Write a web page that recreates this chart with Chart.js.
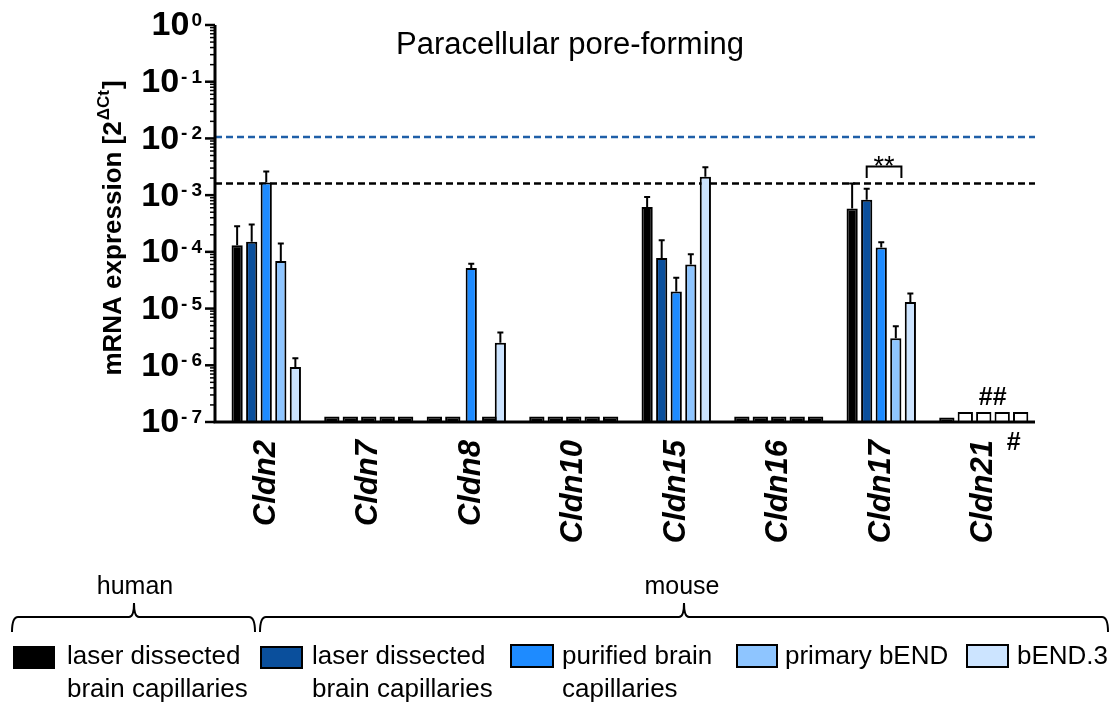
<!DOCTYPE html>
<html><head><meta charset="utf-8">
<script src="https://cdn.jsdelivr.net/npm/chart.js@4.4.0/dist/chart.umd.min.js"></script>
<style>html,body{margin:0;padding:0;background:#fff;}</style>
</head><body>
<canvas id="c" width="1115" height="702"></canvas>
<script>
// ---------- data ----------
const categories = ['Cldn2','Cldn7','Cldn8','Cldn10','Cldn15','Cldn16','Cldn17','Cldn21'];
const seriesNames = ['human laser dissected brain capillaries','mouse laser dissected brain capillaries','purified brain capillaries','primary bEND','bEND.3'];
const seriesColors = ['#000000','#0A4F9C','#1E8BFF','#8EC5FF','#CCE4FF'];

const humanLaser     = [1.31e-4, null, null, null, 6.2e-4, null, 5.8e-4, null];
const humanLaserErr  = [2.84e-4, null, null, null, 9.3e-4, null, 1.6e-3, null];
const mouseLaser     = [1.5e-4, null, null, null, 7.8e-5, null, 8.3e-4, null];
const mouseLaserErr  = [3.04e-4, null, null, null, 1.6e-4, null, 1.3e-3, null];
const purified       = [1.67e-3, null, 5.2e-5, null, 2.0e-5, null, 1.19e-4, null];
const purifiedErr    = [2.6e-3, null, 6.2e-5, null, 3.5e-5, null, 1.48e-4, null];
const primary        = [6.9e-5, null, null, null, 6.0e-5, null, 3.0e-6, null];
const primaryErr     = [1.4e-4, null, null, null, 9.1e-5, null, 4.9e-6, null];
const bend3          = [9.3e-7, null, 2.5e-6, null, 2.1e-3, null, 1.31e-5, null];
const bend3Err       = [1.33e-6, null, 3.8e-6, null, 3.1e-3, null, 1.84e-5, null];

// not-detected bars (drawn at the detection floor)
const ndHumanLaser   = [null, 1.25e-7, 1.25e-7, 1.25e-7, null, 1.25e-7, null, 1.2e-7];
const ndMouseLaser   = [null, 1.25e-7, 1.25e-7, 1.25e-7, null, 1.25e-7, null, 1.5e-7];
const ndPurified     = [null, 1.25e-7, null,    1.25e-7, null, 1.25e-7, null, 1.5e-7];
const ndPrimary      = [null, 1.25e-7, 1.25e-7, 1.25e-7, null, 1.25e-7, null, 1.5e-7];
const ndBend3        = [null, 1.25e-7, null,    1.25e-7, null, 1.25e-7, null, 1.5e-7];
const ndHollow       = [false, false, false, false, false, false, false, true]; // mouse ND bars drawn hollow

const yTickExponents = [0, -1, -2, -3, -4, -5, -6, -7];
const thresholdValues = [1.06e-2, 1.6e-3];
const thresholdColors = ['#1F5FA8', '#000000'];

// ---------- chart ----------
const FONT = "'Liberation Sans', Arial, sans-serif";
const values = [humanLaser, mouseLaser, purified, primary, bend3];
const errs = [humanLaserErr, mouseLaserErr, purifiedErr, primaryErr, bend3Err];
const ndValues = [ndHumanLaser, ndMouseLaser, ndPurified, ndPrimary, ndBend3];

const datasets = [];
values.forEach((v, i) => datasets.push({
  label: seriesNames[i], data: v, stack: 's' + i,
  backgroundColor: seriesColors[i], borderColor: '#000', borderWidth: 2,
  categoryPercentage: 0.71, barPercentage: 0.77
}));
ndValues.forEach((v, i) => datasets.push({
  label: seriesNames[i] + ' (n.d.)', data: v, stack: 's' + i,
  backgroundColor: ctx => (i > 0 && ndHollow[ctx.dataIndex]) ? '#ffffff' : '#000000',
  borderColor: '#000', borderWidth: 2,
  categoryPercentage: 0.9, barPercentage: 0.83
}));

const deco = {
  id: 'deco',
  beforeDatasetsDraw(chart) {
    const {ctx, chartArea: a, scales: {y}} = chart;
    ctx.save();
    thresholdValues.forEach((t, i) => {
      const py = y.getPixelForValue(t);
      ctx.strokeStyle = thresholdColors[i];
      ctx.lineWidth = 2.5;
      ctx.setLineDash([7, 4]);
      ctx.beginPath(); ctx.moveTo(a.left, py); ctx.lineTo(a.right, py); ctx.stroke();
    });
    ctx.restore();
  },
  afterDatasetsDraw(chart) {
    const {ctx, chartArea: a, scales: {x, y}} = chart;
    ctx.save();
    ctx.strokeStyle = '#000';
    ctx.lineWidth = 2;
    // error bars
    errs.forEach((e, i) => {
      const meta = chart.getDatasetMeta(i);
      e.forEach((ev, j) => {
        if (ev == null || values[i][j] == null) return;
        const bar = meta.data[j];
        const ye = y.getPixelForValue(ev);
        ctx.beginPath();
        ctx.moveTo(bar.x, bar.y); ctx.lineTo(bar.x, ye);
        ctx.moveTo(bar.x - 3, ye); ctx.lineTo(bar.x + 3, ye);
        ctx.stroke();
      });
    });
    // axes
    ctx.lineWidth = 3;
    ctx.beginPath();
    ctx.moveTo(a.left, a.top); ctx.lineTo(a.left, a.bottom + 1.5);
    ctx.moveTo(a.left, a.bottom); ctx.lineTo(a.right, a.bottom);
    ctx.stroke();
    // y ticks
    yTickExponents.forEach(e => {
      const py = y.getPixelForValue(Math.pow(10, e));
      ctx.lineWidth = 2.5;
      ctx.beginPath(); ctx.moveTo(a.left - 10, py); ctx.lineTo(a.left, py); ctx.stroke();
      if (e > -7) {
        for (let m = 2; m <= 9; m++) {
          const pm = y.getPixelForValue(m * Math.pow(10, e - 1));
          ctx.lineWidth = 1.5;
          ctx.beginPath(); ctx.moveTo(a.left - 5, pm); ctx.lineTo(a.left, pm); ctx.stroke();
        }
      }
    });
    // y tick labels 10^e
    ctx.fillStyle = '#000';
    yTickExponents.forEach(e => {
      const py = y.getPixelForValue(Math.pow(10, e));
      const rightEdge = a.left - 13;
      ctx.font = 'bold 19px ' + FONT;
      let supW;
      ctx.textAlign = 'right'; ctx.textBaseline = 'alphabetic';
      if (e === 0) {
        supW = ctx.measureText('0').width;
        ctx.fillText('0', rightEdge, py + 1);
      } else {
        const d = String(-e);
        const dw = ctx.measureText(d).width;
        ctx.fillText(d, rightEdge, py + 1);
        ctx.fillText('-', rightEdge - dw - 4, py + 1);
        supW = dw + 4 + ctx.measureText('-').width;
      }
      ctx.font = 'bold 34px ' + FONT;
      ctx.textAlign = 'right'; ctx.textBaseline = 'middle';
      ctx.fillText('10', rightEdge - supW - 2, py + 1);
    });
    // y title
    ctx.save();
    ctx.translate(112, 228);
    ctx.rotate(-Math.PI / 2);
    const t1 = 'mRNA expression [2', ts = '\u0394Ct', t2 = ']';
    ctx.font = 'bold 26px ' + FONT;
    const w1 = ctx.measureText(t1).width, w2 = ctx.measureText(t2).width;
    ctx.font = 'bold 17px ' + FONT;
    const ws = ctx.measureText(ts).width;
    let sx = -(w1 + ws + w2 + 2) / 2;
    ctx.textAlign = 'left'; ctx.textBaseline = 'alphabetic';
    ctx.font = 'bold 26px ' + FONT;
    ctx.fillText(t1, sx, 9);
    ctx.font = 'bold 17px ' + FONT;
    ctx.fillText(ts, sx + w1 + 1, -3);
    ctx.font = 'bold 26px ' + FONT;
    ctx.fillText(t2, sx + w1 + ws + 2, 9);
    ctx.restore();

    // significance bracket at Cldn17 (mouse laser vs primary bEND)
    const ci = categories.indexOf('Cldn17');
    const bl = chart.getDatasetMeta(1).data[ci], br = chart.getDatasetMeta(3).data[ci];
    const xl = bl.x, xr = br.x + br.width / 2;
    const yt = y.getPixelForValue(3.2e-3), yb = y.getPixelForValue(2.0e-3);
    ctx.lineWidth = 2;
    ctx.beginPath();
    ctx.moveTo(xl, yb); ctx.lineTo(xl, yt); ctx.lineTo(xr, yt); ctx.lineTo(xr, yb);
    ctx.stroke();
    ctx.font = '27px ' + FONT;
    ctx.textAlign = 'center'; ctx.textBaseline = 'alphabetic';
    ctx.fillText('**', (xl + xr) / 2, yt + 9);
    // ## above Cldn21
    const c21 = categories.indexOf('Cldn21');
    ctx.font = 'bold 25px ' + FONT;
    ctx.textBaseline = 'middle';
    ctx.fillText('##', x.getPixelForValue(c21) + 9, y.getPixelForValue(1.5e-7) - 14);
    // # next to Cldn21 label
    ctx.font = 'bold 25px ' + FONT;
    ctx.fillText('#', x.getPixelForValue(c21) + 30, a.bottom + 21);
    ctx.restore();
  },
  afterDraw(chart) {
    const ctx = chart.ctx;
    ctx.save();
    ctx.fillStyle = '#000';
    ctx.strokeStyle = '#000';
    // title
    ctx.font = '31px ' + FONT;
    ctx.textAlign = 'center'; ctx.textBaseline = 'middle';
    ctx.fillText('Paracellular pore-forming', 570, 45);
    // group braces
    function brace(x1, x2, xm, yh, yb, yt) {
      ctx.lineWidth = 2;
      ctx.beginPath();
      ctx.moveTo(x1, yb);
      ctx.quadraticCurveTo(x1, yh, x1 + 6, yh);
      ctx.lineTo(xm - 5, yh);
      ctx.quadraticCurveTo(xm, yh, xm, yt);
      ctx.quadraticCurveTo(xm, yh, xm + 5, yh);
      ctx.lineTo(x2 - 6, yh);
      ctx.quadraticCurveTo(x2, yh, x2, yb);
      ctx.stroke();
    }
    brace(12, 255, 134, 617, 632, 603);
    brace(260, 1108, 684, 617, 632, 603);
    ctx.font = '25px ' + FONT;
    ctx.textAlign = 'center'; ctx.textBaseline = 'middle';
    ctx.fillText('human', 135, 587);
    ctx.fillText('mouse', 682, 587);
    // legend
    const items = [
      {box: [13, 646, 42, 23], tx: 67, lines: ['laser dissected', 'brain capillaries'], border: false},
      {box: [261, 647, 41, 21], tx: 312, lines: ['laser dissected', 'brain capillaries'], border: true},
      {box: [511, 645, 42, 22], tx: 562, lines: ['purified brain', 'capillaries'], border: true},
      {box: [737, 645, 40, 22], tx: 785, lines: ['primary bEND'], border: true},
      {box: [967, 645, 41, 22], tx: 1017, lines: ['bEND.3'], border: true}
    ];
    items.forEach((it, i) => {
      const [bx, by, bw, bh] = it.box;
      ctx.fillStyle = seriesColors[i];
      ctx.fillRect(bx, by, bw, bh);
      if (it.border) { ctx.lineWidth = 2; ctx.strokeRect(bx, by, bw, bh); }
      ctx.fillStyle = '#000';
      ctx.font = '26px ' + FONT;
      ctx.textAlign = 'left'; ctx.textBaseline = 'middle';
      it.lines.forEach((l, k) => ctx.fillText(l, it.tx, 657 + k * 33));
    });
    ctx.restore();
  }
};

new Chart(document.getElementById('c'), {
  type: 'bar',
  data: {labels: categories, datasets},
  options: {
    responsive: false, animation: false,
    layout: {padding: {left: 215, top: 25, right: 80, bottom: 0}},
    plugins: {legend: {display: false}, title: {display: false}, tooltip: {enabled: false}},
    scales: {
      x: {
        type: 'category', offset: true,
        grid: {display: false, drawTicks: false}, border: {display: false},
        ticks: {autoSkip: false, minRotation: 90, maxRotation: 90, padding: 18, color: '#000',
                font: {family: FONT, size: 31, weight: 'bold', style: 'italic'}},
        afterFit(s) { s.height = 280; }
      },
      y: {type: 'logarithmic', min: 1e-7, max: 1, display: false}
    }
  },
  plugins: [deco]
});
</script>
</body></html>
